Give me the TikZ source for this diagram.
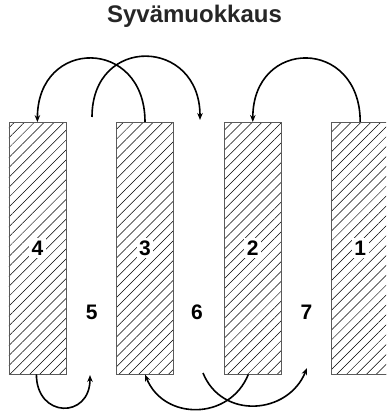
\documentclass[tikz,border=0pt]{standalone}
\usepackage{fontspec}
\setmainfont{Liberation Sans}
\usetikzlibrary{arrows.meta,patterns.meta}
\definecolor{bedgray}{RGB}{90,90,90}

\begin{document}
\begin{tikzpicture}[
  x=1pt, y=1pt,
  bed/.style={draw=bedgray, line width=0.8pt, minimum width=57pt, minimum height=251.7pt, inner sep=0pt,
    pattern={Lines[angle=45, distance=7pt, line width=0.5pt]}},
  num/.style={fill=white, inner sep=2.5pt, font=\fontsize{21}{21}\selectfont\bfseries},
  gapnum/.style={inner sep=0pt, font=\fontsize{21}{21}\selectfont\bfseries},
  move/.style={->, line width=1.6pt},
  >={Stealth[length=7pt, width=5.5pt]}
]
\useasboundingbox (0,0) rectangle (386,414);
\clip (0,0) rectangle (386,414);
\node[anchor=base, font=\fontsize{24}{24}\selectfont\bfseries, text=black!85] (title) at (194.5,391.3) {Syvämuokkaus};
% penkat
\node[bed] (r4) at (37.4,165.8) {};
\node[bed] (r3) at (145.0,165.8) {};
\node[bed] (r2) at (252.8,165.8) {};
\node[bed] (r1) at (360.2,165.8) {};
\node[num] (n4) at (r4) {4};
\node[num] (n3) at (r3) {3};
\node[num] (n2) at (r2) {2};
\node[num] (n1) at (r1) {1};
% välit
\node[gapnum] (n5) at (91.7,101.5) {5};
\node[gapnum] (n6) at (197.0,101.5) {6};
\node[gapnum] (n7) at (306.5,101.5) {7};
\coordinate (a5) at (92,297);
\coordinate (a6) at (200,294);
\coordinate (b5) at (90,39);
\coordinate (b6) at (203,41);
\coordinate (b7) at (307,46);
% siirrot ylhäällä
\draw[move] (r3.north) to[out=90, in=90, looseness=2.02] (r4.north);
\draw[move] (a5) to[out=90, in=90, looseness=1.95] (a6);
\draw[move] (r1.north) to[out=90, in=90, looseness=2.02] (r2.north);
% siirrot alhaalla
\draw[move] ([xshift=-1pt]r4.south) to[out=-90, in=-90, looseness=2.1] (b5);
\draw[move] ([xshift=-4.5pt]r2.south) to[out=-112, in=-68, looseness=1.24] (r3.south);
\draw[move] (b6) to[out=-68, in=-112, looseness=1.24] (b7);
\end{tikzpicture}
\end{document}
